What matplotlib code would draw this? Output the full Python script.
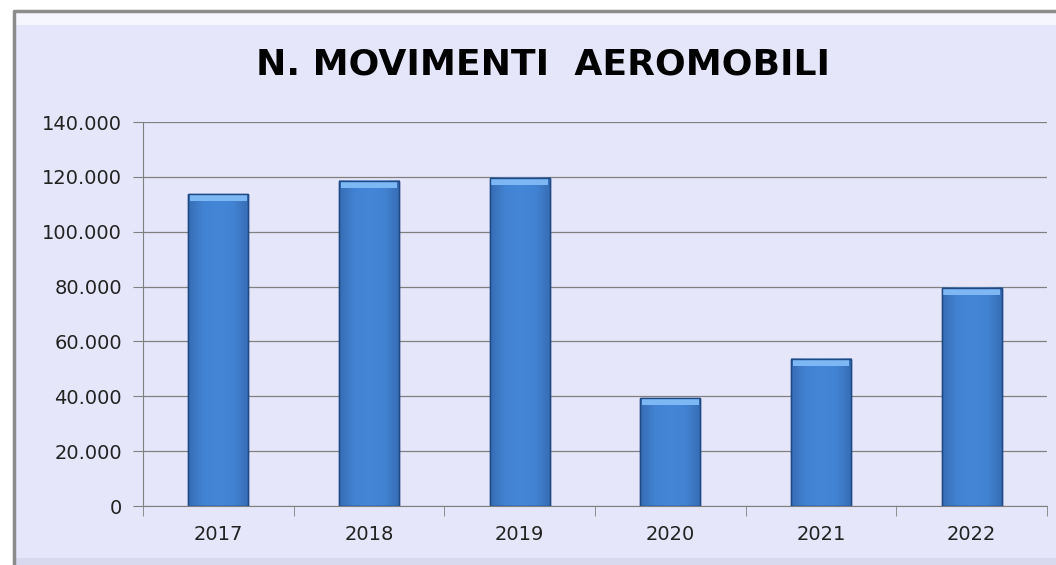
import numpy as np
import matplotlib.pyplot as plt
from matplotlib.patches import Rectangle
from matplotlib.lines import Line2D
from matplotlib.colors import LinearSegmentedColormap
from matplotlib.ticker import FuncFormatter

# dati
anni = ["2017", "2018", "2019", "2020", "2021", "2022"]
movimenti = [113700, 118500, 119600, 39300, 53600, 79500]

bg = "#E6E6FA"
fig = plt.figure(figsize=(10.56, 5.65), dpi=100)
fig.patch.set_facecolor("white")

# area del grafico con cornice grigia (solo sopra e a sinistra)
fig.patches.append(Rectangle((0.0125, 0.0), 1.0, 0.982, transform=fig.transFigure,
                             facecolor=bg, edgecolor="none", zorder=-3))
fig.patches.append(Rectangle((0.0145, 0.955), 1.0, 0.022, transform=fig.transFigure,
                             facecolor="#F6F6FF", edgecolor="none", zorder=-2))
fig.patches.append(Rectangle((0.0145, 0.0), 1.0, 0.012, transform=fig.transFigure,
                             facecolor="#D8D8EE", edgecolor="none", zorder=-2))
fig.lines.append(Line2D([0.0135, 0.0135, 1.0], [0.0, 0.981, 0.981], transform=fig.transFigure,
                        color="#8C8C8C", linewidth=2.5, zorder=-1))

ax = fig.add_axes([0.1354, 0.1044, 0.8561, 0.6796])
ax.set_zorder(2)
ax.set_facecolor(bg)

x = np.arange(len(anni))
bars = ax.bar(x, movimenti, width=0.4, color="#4080D0", edgecolor="#1F4A85",
              linewidth=1.0, zorder=3)

# sfumatura delle barre (orizzontale + verticale)
cmap = LinearSegmentedColormap.from_list("b", ["#2F5F9E", "#4585D6", "#4A8CDC", "#4585D6", "#2F5F9E"])
grad = np.linspace(0, 1, 64).reshape(1, -1)
vgrad = np.linspace(0, 1, 64).reshape(-1, 1)
for b in bars:
    x0, w, h = b.get_x(), b.get_width(), b.get_height()
    ax.imshow(grad, extent=[x0, x0 + w, 0, h], aspect="auto", cmap=cmap,
              zorder=3.5, alpha=0.55)
    ax.imshow(vgrad, extent=[x0, x0 + w, 0, h], aspect="auto", cmap="Blues_r",
              vmin=-2, vmax=1, origin="upper", zorder=3.6, alpha=0.0)
    # smussatura in alto
    ax.add_patch(Rectangle((x0 + w * 0.03, h - 2600), w * 0.94, 2300,
                           facecolor="#7DB8F5", edgecolor="none", zorder=4))
    ax.add_patch(Rectangle((x0, 0), w, h, fill=False, edgecolor="#1F4A85",
                           linewidth=1.0, zorder=5))

ax.set_xlim(-0.5, len(anni) - 0.5)
ax.set_ylim(0, 140000)
ax.set_yticks(np.arange(0, 140001, 20000))
ax.yaxis.set_major_formatter(FuncFormatter(lambda v, p: f"{int(v):,}".replace(",", ".")))
ax.set_xticks(x)
ax.set_xticklabels(anni)
ax.set_xticks(np.arange(-0.5, len(anni), 1), minor=True)
ax.tick_params(axis="x", which="major", length=0, pad=14, labelsize=14, labelcolor="#222222")
ax.tick_params(axis="x", which="minor", length=7, color="#808080", direction="out")
ax.tick_params(axis="y", length=7, color="#808080", labelsize=14, labelcolor="#222222", pad=8)

ax.grid(axis="y", color="#808080", linewidth=0.9, zorder=1)
for s in ["top", "right"]:
    ax.spines[s].set_visible(False)
ax.spines["left"].set_color("#808080")
ax.spines["bottom"].set_color("#808080")
ax.set_axisbelow(True)

fig.text(0.514, 0.886, "N. MOVIMENTI  AEROMOBILI", ha="center", va="center",
         fontsize=26, fontweight="bold", color="black", zorder=3)

fig.savefig("out.png", dpi=100, facecolor=fig.get_facecolor())
